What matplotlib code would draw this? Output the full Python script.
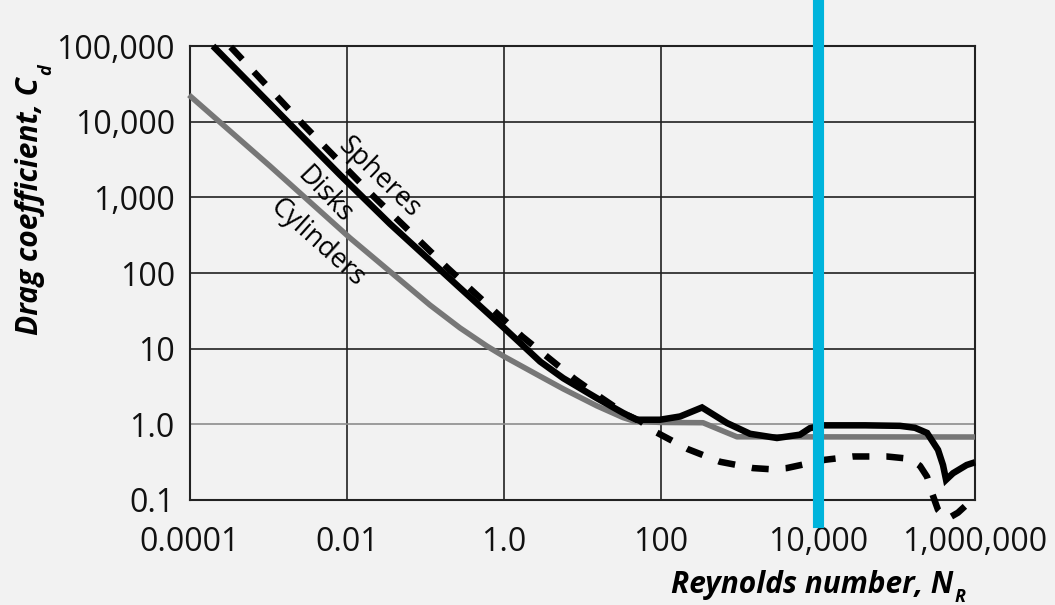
import matplotlib
matplotlib.use('Agg')
import matplotlib.pyplot as plt

# drag coefficient vs Reynolds number
sphere_re = [3.3e-4, 2.8e-3, 0.022, 0.19, 1.7, 7.9, 17.6, 36.6, 54, 84, 220, 565,
             1490, 2500, 3990, 12300, 27900, 75000, 149000, 199000, 245000, 283000,
             338000, 440000, 607000, 863000, 1.02e6]
sphere_cd = [9.7e4, 9040, 1020, 117, 14.5, 3.99, 2.22, 1.33, 1.11, 0.80, 0.47, 0.32,
             0.264, 0.255, 0.264, 0.34, 0.376, 0.376, 0.35, 0.283, 0.203, 0.124,
             0.074, 0.056, 0.068, 0.095, 0.11]

disk_re = [1.96e-4, 8.15e-3, 0.0353, 0.275, 1.0, 2.88, 5.69, 15.2, 33.1, 49, 97, 175,
           333, 693, 1360, 3000, 5900, 7900, 11600, 40000, 111000, 172000, 245000,
           338000, 391000, 428000, 525000, 783000, 1.0e6]
disk_cd = [1.0e5, 1980, 446, 63.5, 18.8, 6.76, 4.07, 2.22, 1.41, 1.15, 1.15, 1.27,
           1.67, 1.04, 0.75, 0.66, 0.73, 0.89, 0.97, 0.97, 0.955, 0.90, 0.77,
           0.46, 0.29, 0.185, 0.226, 0.29, 0.315]

cyl_re = [9.7e-5, 1.04e-3, 0.0109, 0.114, 0.275, 0.607, 1.0, 2.88, 5.69, 15.3, 32.8,
          44.4, 97, 343, 565, 929, 1.0e6]
cyl_cd = [22500, 2600, 291, 37.7, 18.8, 10.8, 7.89, 4.32, 2.94, 1.75, 1.23,
          1.11, 1.06, 1.05, 0.846, 0.684, 0.68]

x_ticks = [1e-4, 1e-2, 1, 1e2, 1e4, 1e6]
x_tick_labels = ['0.0001', '0.01', '1.0', '100', '10,000', '1,000,000']
y_ticks = [0.1, 1, 10, 100, 1e3, 1e4, 1e5]
y_tick_labels = ['0.1', '1.0', '10', '100', '1,000', '10,000', '100,000']
marker_re = 1e4

plt.rcParams['font.family'] = ['Open Sans', 'DejaVu Sans']
bg = '#f2f2f2'

fig = plt.figure(figsize=(10.55, 6.05), dpi=100, facecolor=bg)
ax = fig.add_axes([190 / 1055, 1 - 500 / 605, 785 / 1055, 454 / 605])
ax.set_facecolor(bg)
ax.set_xscale('log')
ax.set_yscale('log')
ax.set_xlim(1e-4, 1e6)
ax.set_ylim(0.1, 1e5)
ax.set_xticks(x_ticks, x_tick_labels)
ax.set_yticks(y_ticks, y_tick_labels)
ax.minorticks_off()
ax.tick_params(length=0, labelsize=23, colors='#111111')
ax.tick_params(axis='x', pad=19)
ax.tick_params(axis='y', pad=11)
ax.grid(True, color='#222222', lw=1.2)
ax.yaxis.get_major_ticks()[1].gridline.set_color('#8c8c8c')
for s in ax.spines.values():
    s.set_color('#222222')
    s.set_linewidth(1.5)

# curves
ax.plot(cyl_re, cyl_cd, color='#777777', lw=4.0, solid_capstyle='butt',
        clip_on=False, zorder=3)
ax.plot(disk_re, disk_cd, color='black', lw=4.7, solid_capstyle='butt',
        solid_joinstyle='miter', clip_on=False, zorder=4)
ax.plot(sphere_re, sphere_cd, color='black', lw=4.7, linestyle=(0, (2.6, 2.6)),
        dash_capstyle='butt', clip_on=False, zorder=5)

ax.axvline(marker_re, ymin=-0.0485, ymax=1.095, color='#00b4dc', lw=8,
           clip_on=False, zorder=6)

# curve labels
ax.text(0.0255, 1800, 'Spheres', rotation=-44, rotation_mode='anchor',
        ha='center', va='center', fontsize=19.5)
ax.text(5.2e-3, 1060, 'Disks', rotation=-46, rotation_mode='anchor',
        ha='center', va='center', fontsize=19.5)
ax.text(4.2e-3, 250, 'Cylinders', rotation=-42, rotation_mode='anchor',
        ha='center', va='center', fontsize=19.5)

# axis titles
fig.text(953 / 1055, 1 - 593 / 605, 'Reynolds number, N', ha='right', va='baseline',
         fontsize=21.5, fontweight='bold', style='italic')
fig.text(955 / 1055, 1 - 602 / 605, 'R', ha='left', va='baseline',
         fontsize=13, fontweight='bold', style='italic')
fig.text(30 / 1055, 1 - 206 / 605, 'Drag coefficient, C', rotation=90,
         ha='center', va='center', fontsize=21.5, fontweight='bold', style='italic')
fig.text(46 / 1055, 1 - 70 / 605, 'd', rotation=90,
         ha='center', va='center', fontsize=13, fontweight='bold', style='italic')

fig.savefig('out.png', dpi=100, facecolor=bg)
